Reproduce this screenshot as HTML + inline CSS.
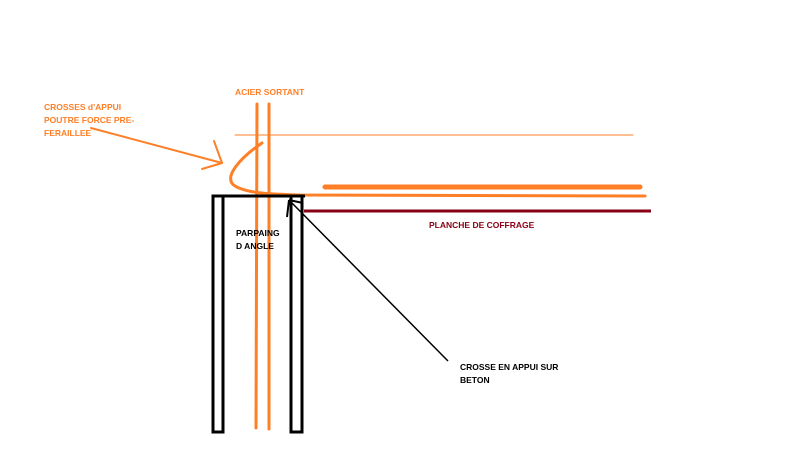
<!DOCTYPE html>
<html><head><meta charset="utf-8"><style>
html,body{margin:0;padding:0;background:#fff;width:807px;height:454px;overflow:hidden}
text{font-family:"Liberation Sans",sans-serif;font-weight:bold;font-size:8.5px}
</style></head><body>
<svg width="807" height="454" viewBox="0 0 807 454" xmlns="http://www.w3.org/2000/svg">
<g stroke="#ff7f27" fill="none" stroke-linecap="round">
<line x1="257" y1="104" x2="256" y2="428" stroke-width="3"/>
<line x1="269" y1="104" x2="269" y2="429" stroke-width="3"/>
<line x1="235" y1="135" x2="633" y2="135" stroke-width="1"/>
<path d="M262 143 C240 158,222 178,235 186 C248 194,275 194,300 195 L645 196" stroke-width="3"/>
<line x1="325" y1="187" x2="640" y2="187" stroke-width="5"/>
<line x1="91" y1="128" x2="222" y2="163" stroke-width="2"/>
<line x1="214" y1="141" x2="222" y2="163" stroke-width="2"/>
<line x1="202" y1="169" x2="222" y2="163" stroke-width="2"/>
</g>
<line x1="304" y1="211" x2="651" y2="211" stroke="#880015" stroke-width="3"/>
<g stroke="#000" fill="none">
<rect x="213" y="196" width="10" height="236" stroke-width="3"/>
<rect x="291" y="196" width="11" height="236" stroke-width="3"/>
<line x1="212" y1="196" x2="305" y2="196" stroke-width="3"/>
<line x1="448" y1="361" x2="289" y2="200" stroke-width="1.5"/>
<line x1="289" y1="200" x2="287" y2="217" stroke-width="2"/>
<line x1="289" y1="200" x2="303" y2="203" stroke-width="2"/>
</g>
<text x="235" y="95" fill="#ff7f27">ACIER SORTANT</text>
<text x="44" y="110" fill="#ff7f27">CROSSES d'APPUI</text>
<text x="44" y="123" fill="#ff7f27">POUTRE FORCE PRE-</text>
<text x="44" y="136" fill="#ff7f27">FERAILLEE</text>
<text x="236" y="236" fill="#000">PARPAING</text>
<text x="236" y="249" fill="#000">D ANGLE</text>
<text x="429" y="228" fill="#880015">PLANCHE DE COFFRAGE</text>
<text x="460" y="370" fill="#000">CROSSE EN APPUI SUR</text>
<text x="460" y="383" fill="#000">BETON</text>
</svg>
</body></html>
